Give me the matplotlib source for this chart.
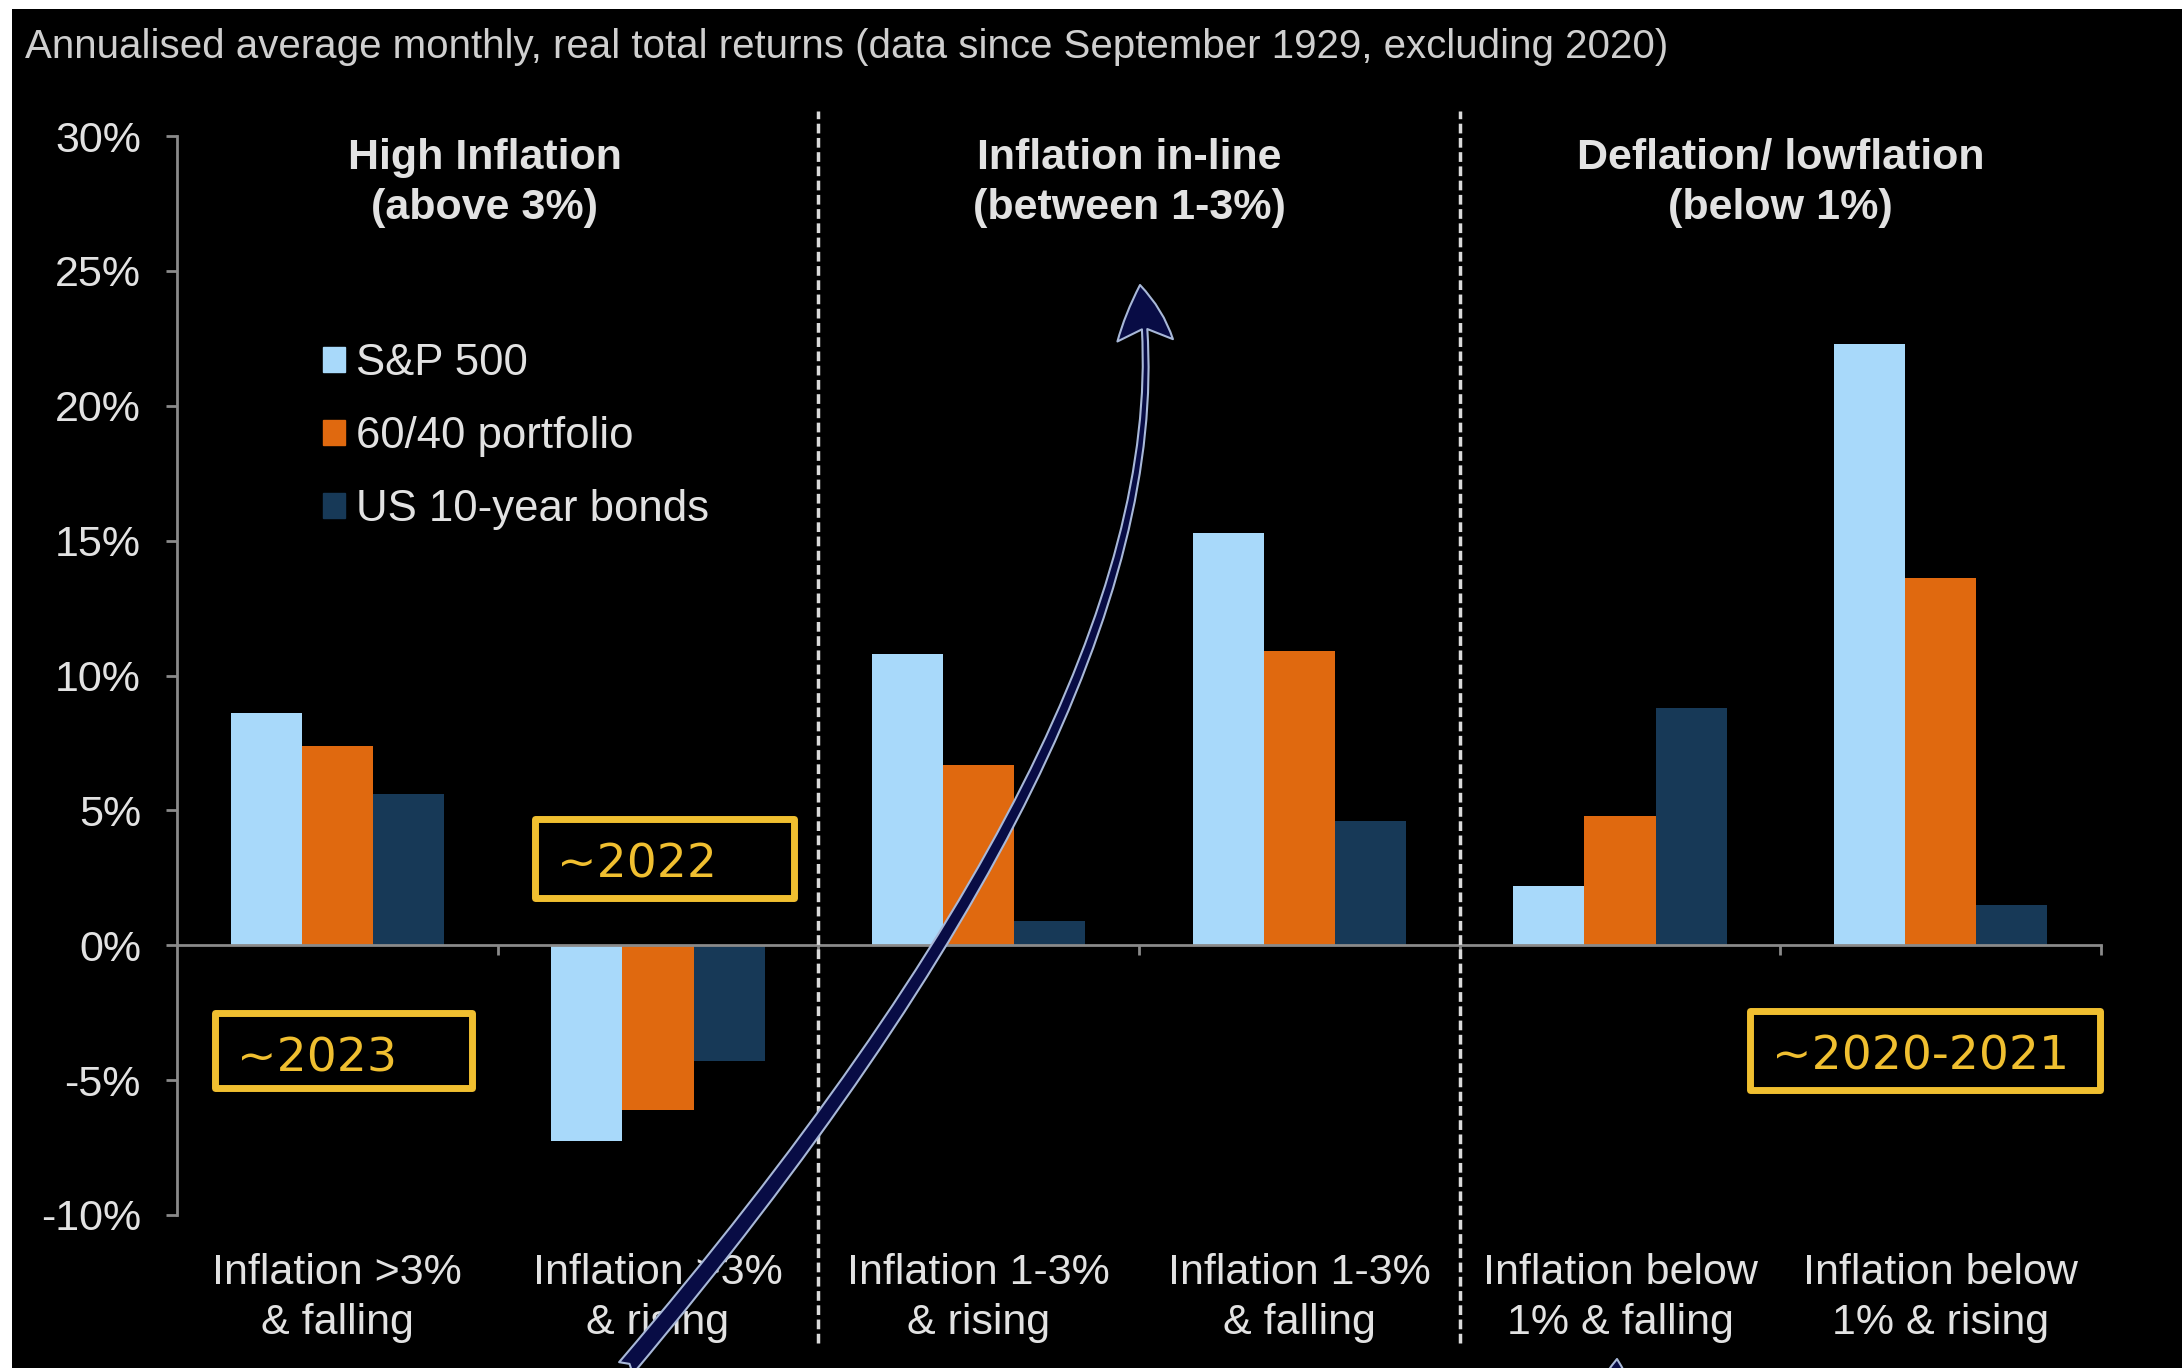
import numpy as np
import matplotlib
matplotlib.use("Agg")
import matplotlib.pyplot as plt
import matplotlib.transforms as mtransforms
from matplotlib.patches import Rectangle, FancyArrowPatch, Patch
from matplotlib.path import Path

plt.rcParams["font.family"] = ["Liberation Sans", "DejaVu Sans"]

# ---------------------------------------------------------------
#  Data (annualised average monthly real total returns, %)
# ---------------------------------------------------------------
categories = [
    "Inflation >3%\n& falling",
    "Inflation >3%\n& rising",
    "Inflation 1-3%\n& rising",
    "Inflation 1-3%\n& falling",
    "Inflation below\n1% & falling",
    "Inflation below\n1% & rising",
]
regimes = [
    "High Inflation\n(above 3%)",
    "Inflation in-line\n(between 1-3%)",
    "Deflation/ lowflation\n(below 1%)",
]
series_names = ["S&P 500", "60/40 portfolio", "US 10-year bonds"]
sp500 = [8.6, -7.25, 10.8, 15.3, 2.2, 22.3]
portfolio_6040 = [7.4, -6.1, 6.7, 10.9, 4.8, 13.6]
bonds_10y = [5.6, -4.3, 0.9, 4.6, 8.8, 1.5]
yticks = [-10, -5, 0, 5, 10, 15, 20, 25, 30]
title = ("Annualised average monthly, real total returns "
         "(data since September 1929, excluding 2020)")
period_notes = ["~2023", "~2022", "~2020-2021"]

# ---------------------------------------------------------------
#  Styles
# ---------------------------------------------------------------
W, H = 2182, 1368
BAR_COLORS = ["#A8D9FA", "#E0690F", "#173957"]
TEXT = "#E2E2E2"
GREY = "#8A8A8A"
YELLOW = "#F0BF30"
NAVY = "#080C45"
OUTLINE = "#A8B8D8"


def px(x, y):
    # picture pixels (from top-left) -> figure fraction
    return x / W, 1 - y / H


fig = plt.figure(figsize=(W / 100, H / 100), dpi=100, facecolor="white")
fig.add_artist(Rectangle((12 / W, 0), 1, 1 - 9 / H, transform=fig.transFigure,
                         facecolor="black", edgecolor="none", zorder=-10))

ax = fig.add_axes([177 / W, 1 - 1215 / H, 1924 / W, 1079 / H])
ax.set_facecolor("none")

x = np.arange(len(categories)) + 0.5
w = 0.222
for k, vals in enumerate([sp500, portfolio_6040, bonds_10y]):
    ax.bar(x + (k - 1) * w, vals, w, color=BAR_COLORS[k],
           label=series_names[k], zorder=2)

ax.set_xlim(0, len(categories))
ax.set_ylim(yticks[0], yticks[-1])

# axes look
for s in ("top", "right"):
    ax.spines[s].set_visible(False)
ax.spines["bottom"].set_position(("data", 0))
ax.spines["bottom"].set_color(GREY)
ax.spines["left"].set_color(GREY)
ax.spines["bottom"].set_linewidth(2)
ax.spines["left"].set_linewidth(2)
ax.set_xticks(np.arange(1, len(categories) + 1))
ax.set_xticklabels([])
ax.set_yticks(yticks)
ax.set_yticklabels([f"{v}%" for v in yticks])
ax.tick_params(axis="x", direction="out", length=7, width=2, color=GREY)
ax.tick_params(axis="y", direction="out", length=8, width=2, color=GREY,
               labelsize=31, labelcolor=TEXT, pad=18)

# regime separators
for xs in (2, 4):
    ax.axvline(xs, ymin=-0.119, ymax=1.023, clip_on=False, color="#DADADA",
               lw=2.5, ls=(0, (2.8, 1.3)), zorder=3)

# regime headers
for xc, txt in zip((0.96, 2.97, 5.0), regimes):
    ax.text(xc, 28.25, txt, ha="center", va="center", fontsize=31,
            fontweight="bold", color=TEXT, linespacing=1.33)

# category labels under the plot
trans = mtransforms.blended_transform_factory(ax.transData, ax.transAxes)
for xc, lab in zip(x, categories):
    ax.text(xc, -0.077, lab, transform=trans, ha="center", va="center",
            fontsize=31, color=TEXT, linespacing=1.33)

# legend
handles = [Patch(color=c) for c in BAR_COLORS]
ax.legend(handles, series_names, loc="upper left",
          bbox_to_anchor=(0.0759, 0.808), frameon=False, fontsize=31.5,
          labelcolor=TEXT, handlelength=0.5, handleheight=0.5,
          handletextpad=0.25, labelspacing=0.73, borderpad=0,
          borderaxespad=0)

fig.text(*px(25, 47), title, fontsize=29, color="#CFCFCF", va="center")


# ---------------------------------------------------------------
#  Overlays: yellow period boxes and arrows
# ---------------------------------------------------------------
def note_box(box, text, start):
    x0, y0, x1, y1 = box
    fig.add_artist(Rectangle(px(x0, y1), (x1 - x0) / W, (y1 - y0) / H,
                             transform=fig.transFigure, fill=False,
                             edgecolor=YELLOW, linewidth=5, joinstyle="round",
                             zorder=6))
    fig.text(*px(*start), text, color=YELLOW, fontsize=34,
             family="DejaVu Sans", va="baseline", zorder=6)


note_box((215, 1013, 472, 1088), period_notes[0], (237, 1071))
note_box((535, 819, 794, 898), period_notes[1], (557, 878))
note_box((1750, 1011, 2100, 1090), period_notes[2], (1772, 1070))


def curved_arrow(p0, ctrl, tip):
    verts = [px(*p) for p in (p0, ctrl, tip)]
    path = Path(verts, [Path.MOVETO, Path.CURVE3, Path.CURVE3])
    fig.add_artist(FancyArrowPatch(
        path=path, transform=fig.transFigure,
        arrowstyle="fancy,head_length=40,head_width=40,tail_width=13",
        mutation_scale=1, facecolor=NAVY, edgecolor=OUTLINE,
        linewidth=1.5, zorder=7))


curved_arrow((626, 1368), (1200, 690), (1140, 285))
curved_arrow((1595, 1700), (1608, 1500), (1617, 1359))

fig.savefig("out.png", dpi=100, facecolor=fig.get_facecolor())
